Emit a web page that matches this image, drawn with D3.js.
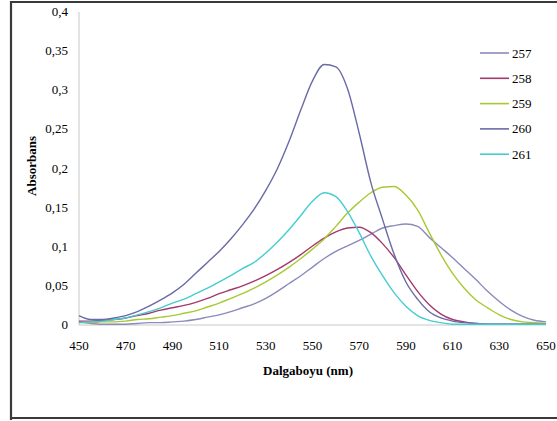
<!DOCTYPE html>
<html><head><meta charset="utf-8">
<script src="https://cdn.jsdelivr.net/npm/d3@7"></script>
<style>body{margin:0;background:#fff}svg{display:block}text{font-family:"Liberation Serif","Times New Roman",Times,"DejaVu Serif",serif}</style>
</head><body><svg id="c" width="557" height="421"></svg>
<script>
const wavelengths = [450,455,460,465,470,475,480,485,490,495,500,505,510,515,520,525,530,535,540,545,550,555,560,565,570,575,580,585,590,595,600,605,610,615,620,625,630,635,640,645,650];
const s257 = [0.004,0.002,0.001,0.001,0.001,0.002,0.003,0.003,0.004,0.005,0.007,0.010,0.013,0.017,0.022,0.027,0.034,0.043,0.053,0.063,0.074,0.085,0.094,0.101,0.108,0.116,0.124,0.127,0.129,0.126,0.112,0.099,0.086,0.072,0.058,0.043,0.030,0.019,0.011,0.006,0.004];
const s258 = [0.005,0.005,0.006,0.007,0.009,0.012,0.015,0.019,0.022,0.025,0.029,0.034,0.040,0.045,0.050,0.056,0.063,0.071,0.080,0.090,0.101,0.111,0.119,0.124,0.125,0.118,0.104,0.086,0.064,0.043,0.026,0.014,0.007,0.004,0.002,0.001,0.001,0.001,0.001,0.001,0.001];
const s259 = [0.003,0.003,0.004,0.004,0.005,0.007,0.008,0.010,0.012,0.015,0.018,0.023,0.028,0.034,0.040,0.047,0.055,0.064,0.074,0.085,0.097,0.110,0.126,0.143,0.157,0.169,0.176,0.177,0.166,0.147,0.118,0.090,0.066,0.047,0.032,0.022,0.013,0.007,0.004,0.003,0.002];
const s260 = [0.012,0.007,0.007,0.009,0.012,0.017,0.024,0.032,0.041,0.052,0.066,0.080,0.094,0.110,0.128,0.148,0.172,0.200,0.235,0.275,0.312,0.333,0.330,0.302,0.245,0.182,0.135,0.090,0.055,0.033,0.017,0.009,0.005,0.003,0.002,0.001,0.001,0.001,0.001,0.001,0.001];
const s261 = [0.003,0.004,0.005,0.007,0.009,0.013,0.017,0.022,0.028,0.033,0.040,0.047,0.055,0.063,0.072,0.080,0.092,0.106,0.122,0.140,0.158,0.169,0.164,0.145,0.118,0.088,0.063,0.041,0.024,0.012,0.006,0.003,0.001,0.001,0.001,0.001,0.001,0.001,0.001,0.001,0.001];
const seriesNames = ["257","258","259","260","261"];
const seriesValues = [s257,s258,s259,s260,s261];
const seriesColors = ["#8a8abb","#a33a6c","#a8c934","#6a6aa6","#45cdd2"];
const xTicks = [450,470,490,510,530,550,570,590,610,630,650];
const yTicks = [0,0.05,0.1,0.15,0.2,0.25,0.3,0.35,0.4];

const svg = d3.select("#c");
svg.append("path").attr("d","M11,420 L11,2 L560,2").attr("fill","none").attr("stroke","#3a3a3a").attr("stroke-width",2.2);
svg.append("line").attr("x1",11).attr("x2",560).attr("y1",418).attr("y2",418).attr("stroke","#3a3a3a").attr("stroke-width",2.2);

const x = d3.scaleLinear().domain([450,650]).range([79,546]);
const y = d3.scaleLinear().domain([0,0.4]).range([325,12]);

svg.append("line").attr("x1",79).attr("x2",79).attr("y1",y(0.4)).attr("y2",y(0)).attr("stroke","#c8c8c8");
svg.append("line").attr("x1",x(450)).attr("x2",x(650)).attr("y1",325).attr("y2",325).attr("stroke","#c8c8c8");

const fmt = d => String(d).replace(".",",");
svg.append("g").selectAll("text").data(yTicks).join("text")
  .attr("x",68).attr("y",d=>y(d)+4).attr("text-anchor","end")
  .attr("font-size",13).attr("fill","#000").text(fmt);
svg.append("g").selectAll("text").data(xTicks).join("text")
  .attr("x",d=>x(d)).attr("y",350).attr("text-anchor","middle")
  .attr("font-size",13).attr("fill","#000").text(d=>d);

svg.append("text").attr("x",308).attr("y",375).attr("text-anchor","middle")
  .attr("font-size",13).attr("font-weight","bold").text("Dalgaboyu (nm)");
svg.append("text").attr("transform","translate(36,166) rotate(-90)").attr("text-anchor","middle")
  .attr("font-size",13).attr("font-weight","bold").text("Absorbans");

const line = d3.line().x((d,i)=>x(wavelengths[i])).y(d=>y(d)).curve(d3.curveMonotoneX);
seriesValues.forEach((vals,k)=>{
  svg.append("path").attr("d",line(vals)).attr("fill","none")
    .attr("stroke",seriesColors[k]).attr("stroke-width",1.4);
});

const lg = svg.append("g");
seriesNames.forEach((n,k)=>{
  const yy = 53 + k*25.3;
  lg.append("line").attr("x1",480).attr("x2",509).attr("y1",yy).attr("y2",yy)
    .attr("stroke",seriesColors[k]).attr("stroke-width",1.6);
  lg.append("text").attr("x",512).attr("y",yy+4.5)
    .attr("font-size",13).attr("fill","#000").text(n);
});
</script></body></html>
